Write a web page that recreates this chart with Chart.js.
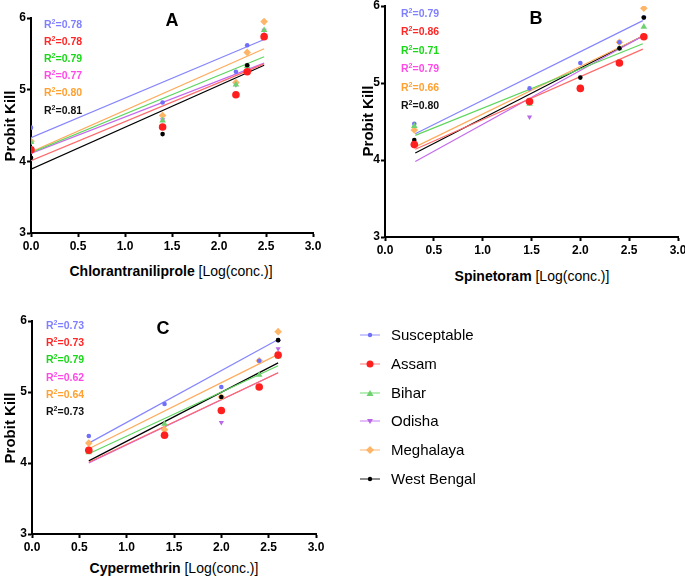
<!DOCTYPE html>
<html lang="en">
<head>
  <meta charset="UTF-8">
  <title>Probit kill vs log concentration</title>
  <style>
    html, body {
      margin: 0;
      padding: 0;
      background: #fff;
      overflow: hidden;
    }
    body {
      width: 685px;
      height: 580px;
      position: relative;
      font-family: "Liberation Sans", Arial, sans-serif;
      color: #000;
    }
    canvas { position: absolute; }
    .ytitle {
      position: absolute;
      width: 120px;
      height: 18px;
      line-height: 18px;
      text-align: center;
      font-weight: bold;
      font-size: 15px;
      transform: rotate(-90deg);
      white-space: nowrap;
    }
    .xtitle {
      position: absolute;
      width: 300px;
      height: 18px;
      line-height: 18px;
      text-align: center;
      font-size: 14px;
      white-space: nowrap;
    }
    .xtitle b { font-weight: bold; }
    .letter {
      position: absolute;
      width: 30px;
      height: 22px;
      line-height: 22px;
      text-align: center;
      font-weight: bold;
      font-size: 18px;
    }
    .r2 {
      position: absolute;
      height: 14px;
      line-height: 14px;
      font-weight: bold;
      font-size: 10.5px;
      white-space: nowrap;
    }
    .r2 sup { font-size: 7px; line-height: 0; vertical-align: 4px; }
    #legend .row {
      position: absolute;
      height: 20px;
      line-height: 20px;
      font-size: 15px;
      white-space: nowrap;
    }
    #legend svg { position: absolute; left: -33px; top: 5px; }
  </style>
</head>
<body>
  <canvas id="chartA" width="330" height="258" style="left:0px;top:0px;width:330px;height:258px"></canvas>
  <canvas id="chartB" width="360" height="272" style="left:340px;top:-10px;width:360px;height:272px"></canvas>
  <canvas id="chartC" width="335" height="259" style="left:0px;top:300px;width:335px;height:259px"></canvas>

  <div class="ytitle" style="left:-50px;top:117px">Probit Kill</div>
  <div class="ytitle" style="left:308px;top:112px">Probit Kill</div>
  <div class="ytitle" style="left:-50px;top:419px">Probit Kill</div>

  <div class="xtitle" style="left:21px;top:262px"><b>Chlorantraniliprole</b> [Log(conc.)]</div>
  <div class="xtitle" style="left:382px;top:267px"><b>Spinetoram</b> [Log(conc.)]</div>
  <div class="xtitle" style="left:24px;top:559px"><b>Cypermethrin</b> [Log(conc.)]</div>

  <div class="letter" style="left:157px;top:9px">A</div>
  <div class="letter" style="left:521px;top:7px">B</div>
  <div class="letter" style="left:148px;top:317px">C</div>

  <div id="r2labels"></div>
  <div id="legend"></div>

  <script src="https://cdn.jsdelivr.net/npm/chart.js"></script>
  <script>
    // poblaciones (mismo orden en todos los paneles)
    const populations = ['Susceptable', 'Assam', 'Bihar', 'Odisha', 'Meghalaya', 'West Bengal'];

    // Panel A - Chlorantraniliprole
    const logConcA = [0, 1.4, 2.18, 2.3, 2.48];
    const probitA = [
      [4.47, 4.82, 5.25, 5.62, 5.74],
      [4.16, 4.48, 4.93, 5.25, 5.74],
      [4.27, 4.57, 5.07, 5.33, 5.83],
      [4.27, 4.58, 5.07, 5.34, 5.83],
      [4.28, 4.64, 5.10, 5.52, 5.95],
      [4.05, 4.38, 4.93, 5.34, 5.74]
    ];
    const fitRangeA = [0, 2.48];
    const fitA = [[4.33, 5.70], [4.01, 5.36], [4.12, 5.46], [4.11, 5.37], [4.13, 5.57], [3.89, 5.34]];
    const r2A = ['0.78', '0.78', '0.79', '0.77', '0.80', '0.81'];

    // Panel B - Spinetoram
    const logConcB = [0.3, 1.48, 2.0, 2.4, 2.65];
    const probitB = [
      [4.47, 4.93, 5.26, 5.53, 5.85],
      [4.20, 4.76, 4.93, 5.26, 5.60],
      [4.44, 4.73, 4.93, 5.45, 5.73],
      [4.20, 4.56, 4.93, 5.53, 5.85],
      [4.39, 4.75, 4.93, 5.53, 5.97],
      [4.26, 4.75, 5.07, 5.45, 5.85]
    ];
    const fitRangeB = [0.31, 2.64];
    const fitB = [[4.34, 5.81], [4.14, 5.44], [4.32, 5.51], [3.98, 5.61], [4.17, 5.61], [4.09, 5.61]];
    const r2B = ['0.79', '0.86', '0.71', '0.79', '0.66', '0.80'];

    // Panel C - Cypermethrin
    const logConcC = [0.6, 1.4, 2.0, 2.4, 2.6];
    const probitC = [
      [4.38, 4.83, 5.07, 5.44, 5.73],
      [4.18, 4.39, 4.74, 5.07, 5.52],
      [4.15, 4.55, 4.74, 5.24, 5.50],
      [4.17, 4.39, 4.57, 5.07, 5.61],
      [4.28, 4.47, 4.93, 5.44, 5.85],
      [4.17, 4.39, 4.93, 5.07, 5.73]
    ];
    const fitRangeC = [0.6, 2.6];
    const fitC = [[4.28, 5.74], [4.01, 5.27], [4.13, 5.37], [4.00, 5.27], [4.20, 5.53], [4.03, 5.41]];
    const r2C = ['0.73', '0.73', '0.79', '0.62', '0.64', '0.73'];

    // estilos
    const pointColors = ['#6f6ff7', '#ff1f1f', '#6fd06f', '#b868e6', '#ffb567', '#000000'];
    const lineColors  = ['#8585ff', '#ff6a6a', '#5fd65f', '#c46aee', '#ffab5c', '#000000'];
    const r2Colors    = ['#8080ff', '#ff2626', '#18d818', '#ff4ae8', '#ffa030', '#111111'];
    const pointStyles = ['circle', 'circle', 'triangle', 'triangle', 'rectRot', 'circle'];
    const pointRot    = [0, 0, 0, 180, 0, 0];
    const pointRadii  = [2.3, 3.8, 3.8, 3, 3.8, 2.3];
    // orden de dibujo: más alto = más abajo
    const drawOrder   = [1.3, 1.0, 1.2, 1.5, 1.4, 1.1];

    const TICK_FONT = { family: '"Liberation Sans", Arial, sans-serif', size: 12, weight: 'bold' };

    function buildDatasets(xs, probit, range, fit) {
      const sets = [];
      populations.forEach((name, i) => {
        sets.push({
          label: name,
          data: xs.map((x, j) => ({ x: x, y: probit[i][j] })),
          showLine: false,
          pointStyle: pointStyles[i],
          rotation: pointRot[i],
          pointRadius: pointRadii[i],
          backgroundColor: pointColors[i],
          borderColor: pointColors[i],
          borderWidth: 0,
          order: drawOrder[i]
        });
        sets.push({
          label: name + ' fit',
          data: [{ x: range[0], y: fit[i][0] }, { x: range[1], y: fit[i][1] }],
          showLine: true,
          pointRadius: 0,
          borderColor: lineColors[i],
          borderWidth: 1.2,
          fill: false,
          order: 5
        });
      });
      return sets;
    }

    function makeChart(id, xs, probit, range, fit, yWidth, padding) {
      const ctx = document.getElementById(id).getContext('2d');
      return new Chart(ctx, {
        type: 'scatter',
        data: { datasets: buildDatasets(xs, probit, range, fit) },
        options: {
          responsive: false,
          animation: false,
          layout: { padding: padding },
          plugins: {
            legend: { display: false },
            tooltip: { enabled: false }
          },
          scales: {
            x: {
              type: 'linear',
              min: 0,
              max: 3,
              afterFit: s => { s.height = 25; },
              ticks: {
                stepSize: 0.5,
                color: '#000',
                font: TICK_FONT,
                padding: 2,
                maxRotation: 0,
                callback: v => v.toFixed(1)
              },
              grid: {
                drawOnChartArea: false,
                drawTicks: true,
                tickLength: 4,
                tickWidth: 2,
                tickColor: '#000',
                color: '#000'
              },
              border: { display: true, color: '#000', width: 2 }
            },
            y: {
              type: 'linear',
              min: 3,
              max: 6,
              afterFit: s => { s.width = yWidth; },
              ticks: {
                stepSize: 1,
                color: '#000',
                font: TICK_FONT,
                padding: 1
              },
              grid: {
                drawOnChartArea: false,
                drawTicks: true,
                tickLength: 4,
                tickWidth: 2,
                tickColor: '#000',
                color: '#000'
              },
              border: { display: true, color: '#000', width: 2 }
            }
          }
        }
      });
    }

    makeChart('chartA', logConcA, probitA, fitRangeA, fitA, 31, { top: 18, right: 17, bottom: 0, left: 0 });
    makeChart('chartB', logConcB, probitB, fitRangeB, fitB, 45, { top: 16, right: 22, bottom: 0, left: 0 });
    makeChart('chartC', logConcC, probitC, fitRangeC, fitC, 32, { top: 21, right: 19, bottom: 0, left: 0 });

    // etiquetas R²
    function addR2(values, left, top0, step) {
      const cont = document.getElementById('r2labels');
      values.forEach((v, i) => {
        const d = document.createElement('div');
        d.className = 'r2';
        d.style.left = left + 'px';
        d.style.top = (top0 + i * step - 7) + 'px';
        d.style.color = r2Colors[i];
        d.innerHTML = 'R<sup>2</sup>=' + v;
        cont.appendChild(d);
      });
    }
    addR2(r2A, 44, 24, 17.1);
    addR2(r2B, 401, 13, 18.4);
    addR2(r2C, 46, 325, 17.2);

    // leyenda
    const legend = document.getElementById('legend');
    const markerSvg = i => {
      const c = pointColors[i];
      let m;
      if (pointStyles[i] === 'triangle' && pointRot[i] === 180) m = `<polygon points="9,7 15,7 12,2" transform="rotate(180 12 5)" fill="${c}"/>`;
      else if (pointStyles[i] === 'triangle') m = `<polygon points="8.5,8 15.5,8 12,2" fill="${c}"/>`;
      else if (pointStyles[i] === 'rectRot') m = `<polygon points="12,1 16,5 12,9 8,5" fill="${c}"/>`;
      else m = `<circle cx="12" cy="5" r="${pointRadii[i] > 3 ? 3.5 : 2.2}" fill="${c}"/>`;
      return `<svg width="24" height="10"><line x1="2" y1="5" x2="22" y2="5" stroke="${lineColors[i]}" stroke-opacity="0.6" stroke-width="1.5"/>${m}</svg>`;
    };
    const legendY = [335, 364, 393, 421, 450, 479];
    populations.forEach((name, i) => {
      const row = document.createElement('div');
      row.className = 'row';
      row.style.left = '391px';
      row.style.top = (legendY[i] - 10) + 'px';
      row.innerHTML = markerSvg(i) + name;
      legend.appendChild(row);
    });
  </script>
</body>
</html>
